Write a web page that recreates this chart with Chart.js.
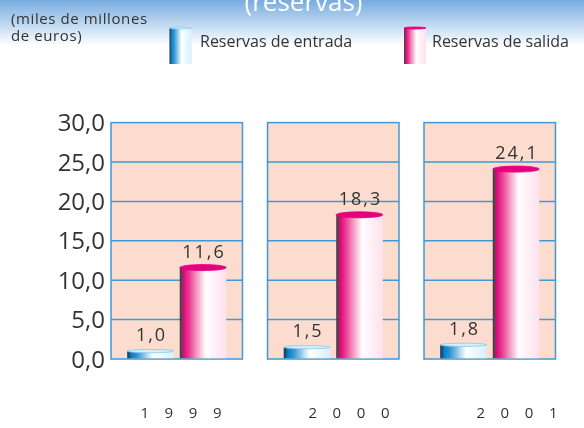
<!DOCTYPE html>
<html>
<head>
<meta charset="utf-8">
<script src="https://cdn.jsdelivr.net/npm/chart.js@4/dist/chart.umd.min.js"></script>
<style>
  html, body { margin: 0; padding: 0; background: #ffffff; }
  #wrap { width: 584px; height: 428px; }
</style>
</head>
<body>
<div id="wrap"><canvas id="c" width="584" height="428"></canvas></div>
<script>
// Reservas de entrada / salida, miles de millones de euros
const years = ['1999', '2000', '2001'];
const entrada = [1.0, 1.5, 1.8];
const salida = [11.6, 18.3, 24.1];
const yTickStep = 5;
const yMax = 30;
const seriesNames = ['Reservas de entrada', 'Reservas de salida'];
const unitLines = ['(miles de millones', 'de euros)'];
const titleText = '(reservas)';

const FONT = '"Open Sans", "Noto Sans", sans-serif';
const TEXT = '#333333';
const PANEL_FILL = '#fcdccf';
const PANEL_LINE = '#3d9ad6';

const fmt = v => v.toFixed(1).replace('.', ',');

// Horizontal colour bands that give the bars their cylinder shading
const blueStops = [
  [0, '#1b2f48'], [0.04, '#1a4f80'], [0.09, '#0a80c6'], [0.2, '#2f93d0'],
  [0.33, '#79b9e0'], [0.45, '#c3e1f2'], [0.56, '#ffffff'], [0.7, '#f1fafe'], [1, '#d6effb']
];
const pinkStops = [
  [0, '#3a3a3a'], [0.04, '#6a3d55'], [0.09, '#e2087d'], [0.2, '#ea3a92'],
  [0.33, '#f186b7'], [0.45, '#f8c6dd'], [0.56, '#ffffff'], [0.7, '#fff3f8'], [1, '#fde2ee']
];
const looks = [
  { stops: blueStops, top: '#d4f0fc', topLine: '#86c9ea', ry: 1.6 },
  { stops: pinkStops, top: '#e5007e', topLine: '#e5007e', ry: 3 }
];

function shade(ctx, x0, x1, stops) {
  const g = ctx.createLinearGradient(x0, 0, x1, 0);
  stops.forEach(([o, c]) => g.addColorStop(o, c));
  return g;
}

function cylinder(ctx, x0, x1, top, bottom, look, ry) {
  ctx.fillStyle = shade(ctx, x0, x1, look.stops);
  ctx.fillRect(x0, top, x1 - x0, bottom - top);
  ctx.beginPath();
  ctx.ellipse((x0 + x1) / 2, top, (x1 - x0) / 2, ry, 0, 0, Math.PI * 2);
  ctx.fillStyle = look.top;
  ctx.fill();
  ctx.lineWidth = 0.8;
  ctx.strokeStyle = look.topLine;
  ctx.stroke();
}

function panelGeometry(chart) {
  const xs = chart.scales.x;
  const pw = (xs.width / years.length) * 0.84;
  return { xs, pw };
}

// Header: blue band, title, unit note and legend
const headerPlugin = {
  id: 'header',
  beforeDraw(chart) {
    const ctx = chart.ctx;
    ctx.save();
    ctx.fillStyle = '#ffffff';
    ctx.fillRect(0, 0, chart.width, chart.height);
    const band = ctx.createLinearGradient(0, 0, 0, 46);
    band.addColorStop(0, '#77abdf');
    band.addColorStop(0.55, '#c2dbf1');
    band.addColorStop(1, '#ffffff');
    ctx.fillStyle = band;
    ctx.fillRect(0, 0, chart.width, 46);

    ctx.fillStyle = '#ffffff';
    ctx.font = '26px ' + FONT;
    ctx.textAlign = 'center';
    ctx.textBaseline = 'alphabetic';
    ctx.fillText(titleText, 303.5, 11);

    ctx.fillStyle = TEXT;
    ctx.textAlign = 'left';
    ctx.font = '15px ' + FONT;
    ctx.letterSpacing = '0.6px';
    ctx.fillText(unitLines[0], 11, 24);
    ctx.fillText(unitLines[1], 11, 41);

    ctx.font = '16px ' + FONT;
    ctx.letterSpacing = '0px';
    const items = [{ x: 169.5, tx: 200 }, { x: 404, tx: 432 }];
    items.forEach((it, i) => {
      cylinder(ctx, it.x, it.x + 22, 28, 64, looks[i], 1);
      ctx.fillStyle = TEXT;
      ctx.fillText(seriesNames[i], it.tx, 47);
    });
    ctx.restore();
  }
};

// One framed panel per year with its own horizontal rules, plus the value axis labels
const panelPlugin = {
  id: 'panels',
  beforeDatasetsDraw(chart) {
    const ctx = chart.ctx;
    const ys = chart.scales.y;
    const { xs, pw } = panelGeometry(chart);
    const top = ys.getPixelForValue(ys.max);
    const bottom = ys.getPixelForValue(ys.min);
    ctx.save();
    years.forEach((_, i) => {
      const cx = xs.getPixelForValue(i);
      const l = cx - pw / 2;
      ctx.fillStyle = PANEL_FILL;
      ctx.fillRect(l, top, pw, bottom - top);
      ctx.strokeStyle = PANEL_LINE;
      ctx.lineWidth = 1.5;
      ys.ticks.forEach(t => {
        if (t.value <= ys.min || t.value >= ys.max) return;
        const y = ys.getPixelForValue(t.value);
        ctx.beginPath();
        ctx.moveTo(l, y);
        ctx.lineTo(l + pw, y);
        ctx.stroke();
      });
      ctx.strokeRect(l, top, pw, bottom - top);
    });

    // value axis labels, right-aligned just left of the first panel
    const firstLeft = xs.getPixelForValue(0) - pw / 2;
    ctx.fillStyle = TEXT;
    ctx.font = '24px ' + FONT;
    ctx.textAlign = 'right';
    ctx.textBaseline = 'alphabetic';
    ys.ticks.forEach(t => {
      ctx.fillText(fmt(t.value), firstLeft - 6, ys.getPixelForValue(t.value) + 8.6);
    });
    ctx.restore();
  }
};

// Bars drawn as shaded cylinders, with their values above
const cylinderPlugin = {
  id: 'cylinders',
  afterDatasetsDraw(chart) {
    const ctx = chart.ctx;
    ctx.save();
    chart.data.datasets.forEach((ds, di) => {
      const meta = chart.getDatasetMeta(di);
      meta.data.forEach((el, i) => {
        const p = el.getProps(['x', 'y', 'base', 'width'], true);
        const x0 = p.x - p.width / 2, x1 = p.x + p.width / 2;
        cylinder(ctx, x0, x1, p.y, p.base - 0.75, looks[di], looks[di].ry);
        ctx.fillStyle = TEXT;
        ctx.font = '18px ' + FONT;
        ctx.letterSpacing = '2px';
        ctx.textAlign = 'center';
        ctx.textBaseline = 'alphabetic';
        ctx.fillText(fmt(ds.data[i]), p.x + 1, p.y - 10);
      });
    });
    ctx.restore();
  }
};

new Chart(document.getElementById('c'), {
  type: 'bar',
  data: {
    labels: years,
    datasets: [
      { label: seriesNames[0], data: entrada, backgroundColor: 'rgba(0,0,0,0)', borderWidth: 0 },
      { label: seriesNames[1], data: salida, backgroundColor: 'rgba(0,0,0,0)', borderWidth: 0 }
    ]
  },
  options: {
    responsive: false,
    animation: false,
    devicePixelRatio: 1,
    categoryPercentage: 0.671,
    barPercentage: 0.886,
    layout: { padding: { top: 122.6, right: 16, bottom: 5, left: 0 } },
    plugins: { legend: { display: false }, tooltip: { enabled: false }, title: { display: false } },
    scales: {
      x: { type: 'category', display: false, offset: true, grid: { display: false } },
      // year labels sit on their own evenly spaced axis below the panels
      x2: {
        type: 'linear',
        position: 'bottom',
        offset: false,
        min: -0.491,
        max: 2.304,
        afterBuildTicks: s => { s.ticks = years.map((_, i) => ({ value: i })); },
        grid: {
          display: true, drawOnChartArea: false, drawTicks: true,
          tickLength: 46, color: 'rgba(0,0,0,0)', offset: false
        },
        border: { display: false },
        ticks: {
          padding: 0,
          autoSkip: false,
          maxRotation: 0,
          color: TEXT,
          font: { family: FONT, size: 15 },
          callback: v => years[v] !== undefined ? years[v].split('').join('    ') : ''
        }
      },
      y: {
        min: 0,
        max: yMax,
        afterFit: s => { s.width = 98.5; },
        grid: { display: false, drawTicks: false },
        border: { display: false },
        ticks: { stepSize: yTickStep, display: false }
      }
    }
  },
  plugins: [headerPlugin, panelPlugin, cylinderPlugin]
});
</script>
</body>
</html>
